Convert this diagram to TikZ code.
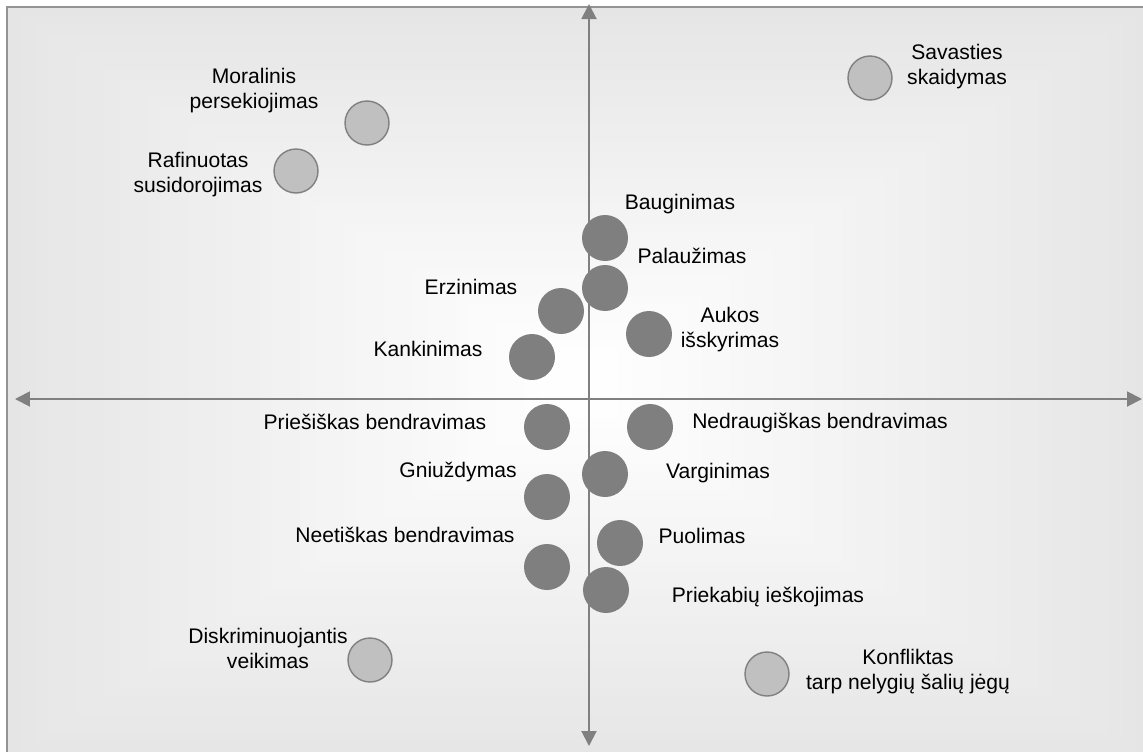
\documentclass[tikz,border=0pt]{standalone}
\usepackage{fontspec}
\setmainfont{Liberation Sans}
\usepackage{xcolor}
\usepackage{tikz}
\usetikzlibrary{arrows.meta}
\definecolor{axisgray}{HTML}{808080}
\definecolor{dotdark}{HTML}{7F7F7F}
\definecolor{dotlight}{HTML}{C0C0C0}
\tikzset{
  darkdot/.style={circle, fill=dotdark, minimum size=0.92cm, inner sep=0pt},
  lightdot/.style={circle, fill=dotlight, draw=axisgray, line width=0.8pt, minimum size=0.88cm, inner sep=0pt},
  lbl/.style={align=center, inner sep=0pt, font=\fontsize{12}{14.2}\selectfont},
  axis/.style={draw=axisgray, line width=1.1pt, {Triangle[length=0.3cm,width=0.3cm]}-{Triangle[length=0.3cm,width=0.3cm]}}
}

\begin{document}
\begin{tikzpicture}[x=0.02cm, y=-0.02cm]
\clip (0,0) rectangle (1143,751);
\foreach \i [evaluate=\i as \c using 20-\i/2] in {0,...,39}
  \fill[gray!\c] (7+14*\i,7+9*\i) rectangle (1150-14*\i,760-9*\i);
\draw[axisgray!85, line width=1.1pt] (7,7) rectangle (1160,770);

\coordinate (west) at (15,399);
\coordinate (east) at (1142,399);
\coordinate (north) at (589,4);
\coordinate (south) at (589,746);
\draw[axis] (west) -- (east);
\draw[axis] (north) -- (south);

\node[lightdot] (savasties) at (870,78) {};
\node[lbl] (savastiesL) at (957,67) {Savasties\\skaidymas};
\node[lightdot] (moralinis) at (367,123) {};
\node[lbl] (moralinisL) at (254,91) {Moralinis\\persekiojimas};
\node[lightdot] (rafinuotas) at (296,171) {};
\node[lbl] (rafinuotasL) at (198,175) {Rafinuotas\\susidorojimas};

\node[darkdot] (bauginimas) at (605,238) {};
\node[lbl] (bauginimasL) at (680,204) {Bauginimas};
\node[darkdot] (palauzimas) at (605,288) {};
\node[lbl] (palauzimasL) at (692,256) {Palaužimas};
\node[darkdot] (erzinimas) at (561,311) {};
\node[lbl] (erzinimasL) at (471,287) {Erzinimas};
\node[darkdot] (aukos) at (649,334) {};
\node[lbl] (aukosL) at (730,330) {Aukos\\išskyrimas};
\node[darkdot] (kankinimas) at (532,357) {};
\node[lbl] (kankinimasL) at (428,349) {Kankinimas};

\node[darkdot] (priesiskas) at (547,427) {};
\node[lbl] (priesiskasL) at (375,422) {Priešiškas bendravimas};
\node[darkdot] (nedraugiskas) at (650,427) {};
\node[lbl] (nedraugiskasL) at (820,423) {Nedraugiškas bendravimas};
\node[darkdot] (varginimas) at (605,474) {};
\node[lbl] (varginimasL) at (718,473) {Varginimas};
\node[darkdot] (gniuzdymas) at (547,497) {};
\node[lbl] (gniuzdymasL) at (458,472) {Gniuždymas};
\node[darkdot] (puolimas) at (620,543) {};
\node[lbl] (puolimasL) at (702,536) {Puolimas};
\node[darkdot] (neetiskas) at (547,567) {};
\node[lbl] (neetiskasL) at (405,535) {Neetiškas bendravimas};
\node[darkdot] (priekabiu) at (606,590) {};
\node[lbl] (priekabiuL) at (768,597) {Priekabių ieškojimas};

\node[lightdot] (diskriminuojantis) at (370,660) {};
\node[lbl] (diskriminuojantisL) at (268,648) {Diskriminuojantis\\veikimas};
\node[lightdot] (konfliktas) at (767,674) {};
\node[lbl] (konfliktasL) at (908,672) {Konfliktas\\tarp nelygių šalių jėgų};
\end{tikzpicture}
\end{document}
